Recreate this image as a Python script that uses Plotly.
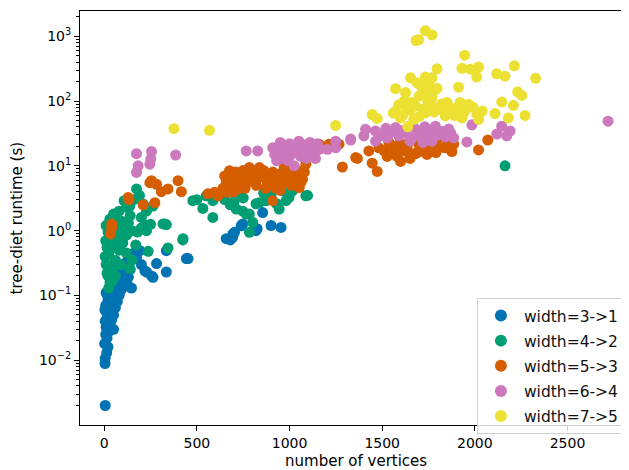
import plotly.graph_objects as go

series_names = ["width=3->1", "width=4->2", "width=5->3", "width=6->4", "width=7->5"]
colors = ["#0173b2", "#029e73", "#d55e00", "#cc78bc", "#ece133"]

blue_x = [5, 4, 5, 13, 20, 15, 8, 25, 10, 30, 5, 20, 40, 50, 12, 30, 60, 8, 45, 70, 20, 35, 80, 55, 10, 90, 25, 65, 100, 40,
          110, 75, 15, 28, 50, 3, 60, 85, 120, 130, 95, 60, 147, 174, 228, 263, 282, 335, 335, 443, 200, 160, 140, 2, 35, 18,
          45, 70, 100, 192, 156, 120, 219, 255, 138, 452,
          658, 693, 703, 739, 747, 825, 855, 900, 954, 819, 694, 680]
blue_y = [0.002, 0.0089, 0.0107, 0.013, 0.016, 0.022, 0.025, 0.028, 0.032, 0.035, 0.04, 0.045, 0.042, 0.05, 0.055, 0.06, 0.065,
          0.07, 0.075, 0.08, 0.085, 0.09, 0.1, 0.105, 0.11, 0.12, 0.13, 0.14, 0.15, 0.16,
          0.18, 0.2, 0.045, 0.05, 0.03, 0.06, 0.11, 0.16, 0.22, 0.19, 0.25, 0.28, 0.13, 0.39, 0.23, 0.19, 0.31, 0.23, 0.49, 0.37,
          0.3, 0.45, 0.25, 0.018, 0.07, 0.1, 0.12, 0.17, 0.2, 0.49, 0.39, 0.33, 0.24, 0.2, 0.134, 0.37,
          0.75, 0.79, 0.94, 1.19, 1.27, 1.07, 1.9, 1.2, 1.12, 1.0, 0.89, 0.72]

green_x = [31, 20, 10, 40, 5, 25, 60, 15, 45, 80, 8, 35, 70, 100, 20, 55, 90, 120, 10, 40, 75, 110, 150, 180, 30, 60, 95, 130,
           200, 230, 250, 138, 237, 326, 344, 424, 228, 90, 60, 120, 170, 150,
           174, 120, 138, 210, 228, 263, 160, 190, 107, 317, 478, 532, 550, 586, 586, 595, 712, 712, 747, 766, 783, 783,
           801, 819, 837, 873, 944, 962, 981, 997, 1016, 1088, 1097, 2163, 650, 680, 900, 930, 860, 750, 700, 620, 500, 425, 335,
           50, 80, 140, 200, 25, 45, 15]
green_y = [0.16, 0.2, 0.3, 0.25, 0.4, 0.45, 0.35, 0.55, 0.6, 0.5, 0.7, 0.8, 0.75, 0.65, 0.95, 1.0, 0.9, 0.85, 1.2, 1.35, 1.2,
           1.1, 1.0, 0.95, 1.5, 1.5, 1.4, 1.3, 1.1, 1.2, 1.25, 0.26, 0.48, 1.27, 0.54, 0.72, 1.0, 0.3, 0.2, 0.45, 0.6, 0.35,
           4.4, 2.3, 2.4, 2.57, 2.0, 2.4, 3.0, 3.5, 2.9, 1.27, 2.9, 2.2, 3.45, 1.6, 2.9, 3.25, 3.45, 2.15, 2.0, 1.8, 1.8, 0.94,
           1.34, 2.6, 2.7, 2.9, 2.15, 4.1, 2.9, 3.25, 4.1, 3.45, 3.5, 10, 3.0, 2.5, 3.5, 2.6, 3.8, 3.2, 2.8, 3.5, 3.0, 0.75, 1.24,
           1.8, 2.0, 1.7, 1.6, 0.13, 0.17, 0.22]

orange_x = [40, 34, 40, 129, 134, 210, 246, 255, 282, 308, 344, 398, 416, 273, 559, 595, 613, 667, 658, 676, 700, 720, 740,
            760, 783, 800, 820, 837, 850, 870, 890, 909, 910, 930, 950, 971, 990, 1010, 1030, 1052, 1070, 1088, 1160, 1213,
            1267, 1285, 1357, 1366, 1428, 1446, 1473, 1482, 1527, 1536, 1572, 1590, 1599, 1626, 1635, 1680, 1688, 1697, 1733,
            1742, 1751, 1769, 1805, 1805, 1876, 1886, 2020, 2070, 780, 700, 640, 750, 860, 950,
            650, 690, 710, 730, 770, 790, 810, 830, 880, 900, 920, 940, 960, 980, 1000, 1020, 1040, 1060, 1080,
            1510, 1550, 1580, 1620, 1650, 1710, 1760, 1790, 1840, 1850]
orange_y = [1.27, 0.89, 1.1, 3.25, 3.0, 2.5, 5.5, 5.9, 5.2, 4.0, 4.4, 5.9, 4.0, 2.7, 3.7, 3.9, 3.45, 3.9, 5.9, 8.4, 6.5, 5.0,
            7.0, 4.5, 9.4, 6.0, 5.0, 9.4, 7.0, 4.5, 6.5, 2.9, 8.0, 5.5, 4.2, 9.4, 6.0, 5.0, 7.5, 4.6, 6.2, 10.6, 21.6, 21.6,
            21.6, 9.6, 13.4, 13, 17, 11, 8.2, 19, 14, 23, 19, 21.6, 11.7, 21.6, 19, 15.4, 16, 21.6, 19,
            15, 29, 18, 27, 19, 16.6, 21.6, 17.6, 25, 6.8, 4.0, 4.5, 8.5, 8.5, 7.5,
            7.0, 5.0, 8.0, 4.5, 5.5, 7.5, 8.5, 6.5, 5.5, 7.0, 4.6, 6.8, 5.2, 8.0, 7.0, 5.8, 8.6, 5.5, 8.0,
            17, 16, 14, 17, 13, 17, 21, 16, 19, 23]

pink_x = [174, 183, 174, 255, 251, 246, 385, 766, 828, 909, 920, 940, 960, 980, 1000, 1020, 1025, 1040, 1060, 1080, 1100,
          1120, 1140, 1160, 1204, 1249, 1249, 1330, 1330, 1401, 1410, 1464, 1464, 1491, 1527, 1572, 1590, 1626, 1661, 1680,
          1715, 1743, 1769, 1787, 1823, 1859, 1886, 1957, 1984, 2118, 2145, 2172, 2190, 2719, 950, 1000, 990,
          1540, 1600, 1640, 1700, 1730, 1760, 1800, 1840, 1870, 1520, 1650, 1720,
          930, 1050, 1090, 1110, 1130, 1150, 1070, 1010, 970]
pink_y = [15.4, 10, 7.9, 16.6, 12.7, 10.6, 14.7, 17, 17, 19, 15, 20, 13, 18, 22, 16, 10, 19, 14, 21, 17,
          20, 13, 18, 18, 24, 19, 25, 26, 29, 36.6, 34.5, 24, 29, 27, 39, 29, 32, 27, 37,
          27, 32, 24, 41, 34, 37, 27, 23.4, 43, 31, 41, 29, 34.5, 49, 23, 14, 12,
          32, 35, 40, 30, 40, 35, 30, 28, 32, 38, 24, 23,
          12, 24, 13, 23, 16, 22, 18, 19, 16]

yellow_x = [376, 568, 1249, 1446, 1473, 1683, 1697, 1733, 1769, 1945, 1930, 1975, 2020, 2010, 1796, 1653, 1733, 1769, 1572,
            1626, 1688, 1796, 1912, 2118, 2163, 2213, 2328, 2231, 2253, 2145, 2208, 2271, 2109, 2181, 1638, 1572, 1599, 1635,
            1680, 1733, 1760, 1805, 1841, 1903, 1930, 1966, 2011, 2020, 1670, 1769, 1787, 1700, 1750, 1620, 1850, 1880, 1950,
            1560, 1590, 1610, 1650, 1660, 1700, 1720, 1745, 1780, 1820, 1830, 1860, 1890, 1920, 1940, 1990, 2040,
            1710, 1740]
yellow_y = [37.5, 35.4, 42, 62, 54, 860, 890, 1220, 1050, 510, 320, 310, 335, 235, 315, 228, 235, 228, 155,
            135, 192, 157, 164, 263, 242, 350, 224, 139, 122, 97, 86, 60, 64, 55, 40, 70, 55, 79,
            84, 66, 89, 79, 59, 79, 55, 89, 62, 52, 52, 112, 150, 120, 180, 100, 95, 70, 75,
            65, 88, 60, 72, 95, 58, 75, 100, 68, 90, 70, 80, 60, 95, 65, 80, 70,
            170, 130]

xs = [blue_x, green_x, orange_x, pink_x, yellow_x]
ys = [blue_y, green_y, orange_y, pink_y, yellow_y]

x_ticks = [0, 500, 1000, 1500, 2000, 2500]
y_tickvals = [0.01, 0.1, 1, 10, 100, 1000]
y_ticktext = ["10<sup>−2</sup>", "10<sup>−1</sup>", "10<sup>0</sup>", "10<sup>1</sup>", "10<sup>2</sup>", "10<sup>3</sup>"]
y_minor = [m * 10.0 ** e for e in range(-3, 4) for m in range(2, 10)]

fig = go.Figure()
for name, c, x, y in zip(series_names, colors, xs, ys):
    fig.add_trace(go.Scatter(x=x, y=y, mode="markers", name=name, legendgroup=name,
                             marker=dict(color=c, size=11, line=dict(width=0))))

font = dict(family="DejaVu Sans", size=15, color="black")
tickfont = dict(family="DejaVu Sans", size=14, color="black")
fig.update_layout(
    width=621, height=462,
    margin=dict(l=72, r=0, t=3, b=45),
    plot_bgcolor="white", paper_bgcolor="white",
    font=font,
    showlegend=True,
    legend=dict(x=0.723, y=0.307, xanchor="left", yanchor="top",
                bordercolor="#d0d0d0", borderwidth=1, bgcolor="rgba(255,255,255,0.8)",
                font=dict(family="DejaVu Sans", size=15.5, color="#111111"), itemsizing="constant",
                itemwidth=36, traceorder="grouped", tracegroupgap=2),
    annotations=[
        dict(text="number of vertices", xref="paper", yref="paper", x=0.503, y=-0.087,
             xanchor="center", yanchor="middle", showarrow=False, font=font),
        dict(text="tree-diet runtime (s)", xref="paper", yref="paper", x=-0.114, y=0.5,
             xanchor="center", yanchor="middle", showarrow=False, textangle=-90, font=font),
    ],
)
fig.update_xaxes(range=[-131, 2832], tickvals=x_ticks, ticks="outside", ticklen=5, tickcolor="black",
                 tickfont=tickfont,
                 showline=True, linecolor="black", linewidth=1, mirror=True, showgrid=False, zeroline=False,
                 automargin=False)
fig.update_yaxes(type="log", range=[-3.0, 3.39], tickvals=y_tickvals, ticktext=y_ticktext,
                 ticks="outside", ticklen=5, tickcolor="black", tickfont=tickfont,
                 minor=dict(tickmode="array", tickvals=y_minor, ticks="outside", ticklen=3,
                            tickcolor="black", showgrid=False),
                 showline=True, linecolor="black", linewidth=1, mirror=False, showgrid=False, zeroline=False,
                 automargin=False)

fig.write_html("out.html")
